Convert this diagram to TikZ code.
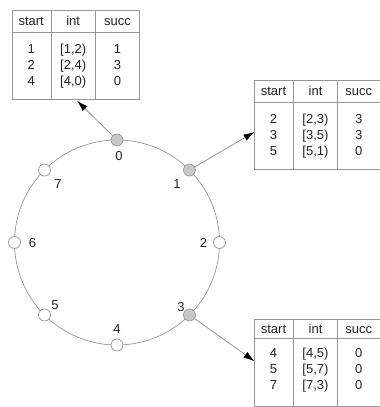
\documentclass[tikz,border=0pt]{standalone}
\usepackage{fontspec}
\setmainfont{Liberation Sans}
\usetikzlibrary{arrows.meta,calc}
\definecolor{linegray}{RGB}{150,150,150}
\definecolor{txtgray}{RGB}{35,35,35}
\definecolor{nodegray}{RGB}{200,200,200}
\tikzset{
  lbl/.style={text=txtgray, font=\fontsize{13}{15}\selectfont, inner sep=0pt, text height=9.2pt, text depth=0pt},
  tabbox/.style={draw=linegray, line width=0.8pt, inner sep=0pt, fill=white},
  rule/.style={draw=linegray, line width=0.8pt},
  ringnode/.style={circle, draw=linegray, line width=0.7pt, minimum size=12pt, inner sep=0pt, fill=white},
  active/.style={ringnode, fill=nodegray},
  conn/.style={draw=linegray, line width=0.8pt, -{Latex[length=11pt,width=7pt,color=black]}},
}
% #1 name, #2 x0, #3 y0, #4 width, #5 header height, #6 total height, #7 first row offset, #8 rows
\newcommand\fingertab[8]{%
  \node[tabbox, minimum width=#4pt, minimum height=#6pt, anchor=north west] (#1) at (#2,#3) {};
  \draw[rule] ($(#1.north west)+(0,#5)$) -- ($(#1.north east)+(0,#5)$);
  \draw[rule] ($(#1.north west)+(39.5,0)$) -- ($(#1.south west)+(39.5,0)$);
  \draw[rule] ($(#1.north west)+(83.8,0)$) -- ($(#1.south west)+(83.8,0)$);
  \node[lbl] (#1-h1) at ($(#1.north west)+(19.5,{#5/2})$) {start};
  \node[lbl] (#1-h2) at ($(#1.north west)+(61.5,{#5/2})$) {int};
  \node[lbl] (#1-h3) at ($(#1.north west)+({(83.8+#4)/2},{#5/2})$) {succ};
  \foreach \a/\b/\c [count=\k from 0] in {#8} {
    \node[lbl] (#1-a\k) at ($(#1.north west)+(19.5,{#7+15.8*\k})$) {\a};
    \node[lbl] (#1-b\k) at ($(#1.north west)+(61.5,{#7+15.8*\k})$) {\b};
    \node[lbl] (#1-c\k) at ($(#1.north west)+({(83.8+#4)/2},{#7+15.8*\k})$) {\c};
  }%
}
\begin{document}
\begin{tikzpicture}[x=1pt,y=-1pt]
\useasboundingbox (0,0) rectangle (380,407);
\coordinate (c) at (117,242.5);
\draw[linegray, line width=0.7pt] (c) circle (102.5pt);
\foreach \i in {0,...,7} {
  \ifnum\i=0 \def\sty{active}\else\ifnum\i=1 \def\sty{active}\else\ifnum\i=3 \def\sty{active}\else\def\sty{ringnode}\fi\fi\fi
  \node[\sty] (n\i) at ($(c)+({102.5*sin(45*\i)},{-102.5*cos(45*\i)})$) {};
}
% ring labels
\node[lbl] (l0) at (119,155.5) {0};
\node[lbl] (l1) at (177,184) {1};
\node[lbl] (l2) at (203.5,243) {2};
\node[lbl] (l3) at (181,306.5) {3};
\node[lbl] (l4) at (117,329) {4};
\node[lbl] (l5) at (55,305) {5};
\node[lbl] (l6) at (32.5,243) {6};
\node[lbl] (l7) at (58,184) {7};
% tables
\fingertab{t0}{11.7}{10}{127.6}{22.3}{89.3}{39}{1/{[1,2)}/1, 2/{[2,4)}/3, 4/{[4,0)}/0}
\fingertab{t1}{254}{80}{125.5}{22.3}{89.3}{39.3}{2/{[2,3)}/3, 3/{[3,5)}/3, 5/{[5,1)}/0}
\fingertab{t2}{254}{319.2}{125.5}{19}{86.8}{34}{4/{[4,5)}/0, 5/{[5,7)}/0, 7/{[7,3)}/0}
% connectors
\coordinate (e0) at ($(t0.south west)+(65.5,0.8)$);
\coordinate (e1) at ($(t1.north west)+(0.5,52)$);
\coordinate (e2) at ($(t2.north west)+(0.5,42)$);
\draw[conn] (n0) -- (e0);
\draw[conn] (n1) -- (e1);
\draw[conn] (n3) -- (e2);
\end{tikzpicture}
\end{document}
